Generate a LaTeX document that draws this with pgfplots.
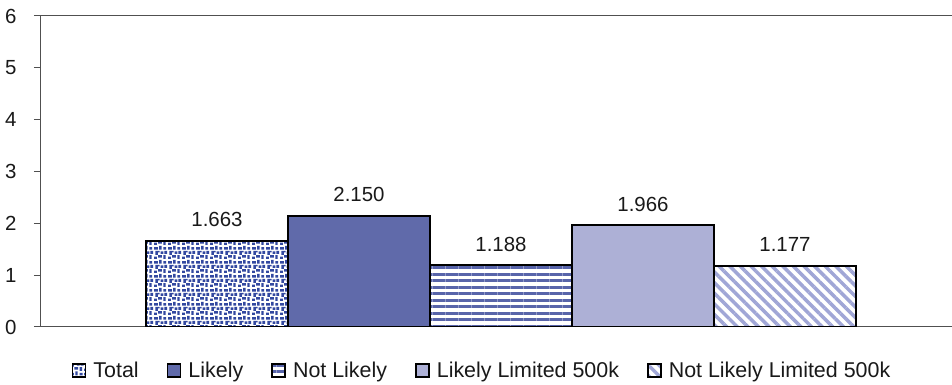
\documentclass[border=0pt]{standalone}
\usepackage{fontspec}
\setmainfont{Liberation Sans}
\usepackage{pgfplots}
\pgfplotsset{compat=1.18}
\usetikzlibrary{patterns,patterns.meta}

\definecolor{dotblue}{RGB}{50,72,160}
\definecolor{likelyblue}{RGB}{96,106,170}
\definecolor{stripeblue}{RGB}{88,100,170}
\definecolor{lightblue}{RGB}{173,176,214}
\definecolor{diagblue}{RGB}{160,166,214}
\definecolor{axisgrey}{RGB}{80,80,80}

% speckled texture for the "Total" bar
\pgfdeclarepatternformonly{speckle}{\pgfpointorigin}{\pgfpoint{14bp}{14bp}}{\pgfpoint{14bp}{14bp}}{%
  \pgfpathrectangle{\pgfpoint{0bp}{0bp}}{\pgfpoint{3bp}{2.5bp}}%
  \pgfpathrectangle{\pgfpoint{4.5bp}{1.5bp}}{\pgfpoint{4bp}{2.5bp}}%
  \pgfpathrectangle{\pgfpoint{10bp}{0bp}}{\pgfpoint{2.5bp}{4bp}}%
  \pgfpathrectangle{\pgfpoint{1.5bp}{4.5bp}}{\pgfpoint{2.5bp}{4bp}}%
  \pgfpathrectangle{\pgfpoint{7bp}{5.5bp}}{\pgfpoint{3bp}{2.5bp}}%
  \pgfpathrectangle{\pgfpoint{11bp}{5.5bp}}{\pgfpoint{3bp}{3bp}}%
  \pgfpathrectangle{\pgfpoint{0bp}{10bp}}{\pgfpoint{4bp}{2.5bp}}%
  \pgfpathrectangle{\pgfpoint{5.5bp}{10bp}}{\pgfpoint{2.5bp}{4bp}}%
  \pgfpathrectangle{\pgfpoint{10bp}{10bp}}{\pgfpoint{3bp}{2.5bp}}%
  \pgfpathrectangle{\pgfpoint{4.5bp}{7bp}}{\pgfpoint{1.5bp}{1.5bp}}%
  \pgfusepath{fill}}

\pgfplotsset{
  barbase/.style={ybar, bar width=142, bar shift=0pt, draw=black, line width=2bp},
  boxlegend/.style={legend image code/.code={%
      \draw[##1, line width=1.8bp, draw=black] (0bp,-6.5bp) rectangle (13bp,6.5bp);}},
}

\begin{document}
\begin{tikzpicture}
\begin{axis}[
  scale only axis, width=912bp, height=311bp,
  xmin=0, xmax=912, ymin=0, ymax=6,
  ytick={0,...,6}, xtick=\empty,
  axis x line=box, axis y line=left,
  axis line style={-, draw=axisgrey, line width=1bp},
  tick align=outside, major tick length=6bp,
  ytick style={draw=axisgrey, line width=1bp},
  yticklabel style={font=\fontsize{20.5}{24}\selectfont, text=black!90, xshift=-14bp},
  /pgf/number format/assume math mode=true,
  nodes near coords={\pgfmathprintnumber[fixed,fixed zerofill,precision=3]{\pgfplotspointmeta}},
  every node near coord/.append style={font=\fontsize{20.5}{24}\selectfont,
    anchor=base, yshift=14bp, inner sep=0pt, text=black!90},
  legend columns=5,
  legend style={at={(0.4846,-0.105)}, anchor=north, draw=none, fill=none,
    inner sep=0pt, font=\fontsize{21.5}{24}\selectfont, text=black!90,
    /tikz/every even column/.append style={column sep=26bp},
    /tikz/every odd column/.append style={column sep=5bp}},
  legend cell align=left,
]
\addplot[barbase, pattern=speckle, pattern color=dotblue, boxlegend]
  coordinates {(177,1.663)};
\addplot[barbase, fill=likelyblue, boxlegend]
  coordinates {(319,2.150)};
\addplot[barbase, pattern={Lines[angle=0,distance=6.5bp,line width=3bp]},
  pattern color=stripeblue, boxlegend]
  coordinates {(461,1.188)};
\addplot[barbase, fill=lightblue, boxlegend]
  coordinates {(603,1.966)};
\addplot[barbase, pattern={Lines[angle=-45,distance=7.5bp,line width=3.5bp]},
  pattern color=diagblue, boxlegend]
  coordinates {(745,1.177)};
\legend{Total, Likely, Not Likely, Likely Limited 500k, Not Likely Limited 500k}
\end{axis}
\pgfresetboundingbox
\path[use as bounding box] ([xshift=-40bp,yshift=-58bp]current axis.south west)
  rectangle ([yshift=16bp]current axis.north east);
\end{tikzpicture}
\end{document}
